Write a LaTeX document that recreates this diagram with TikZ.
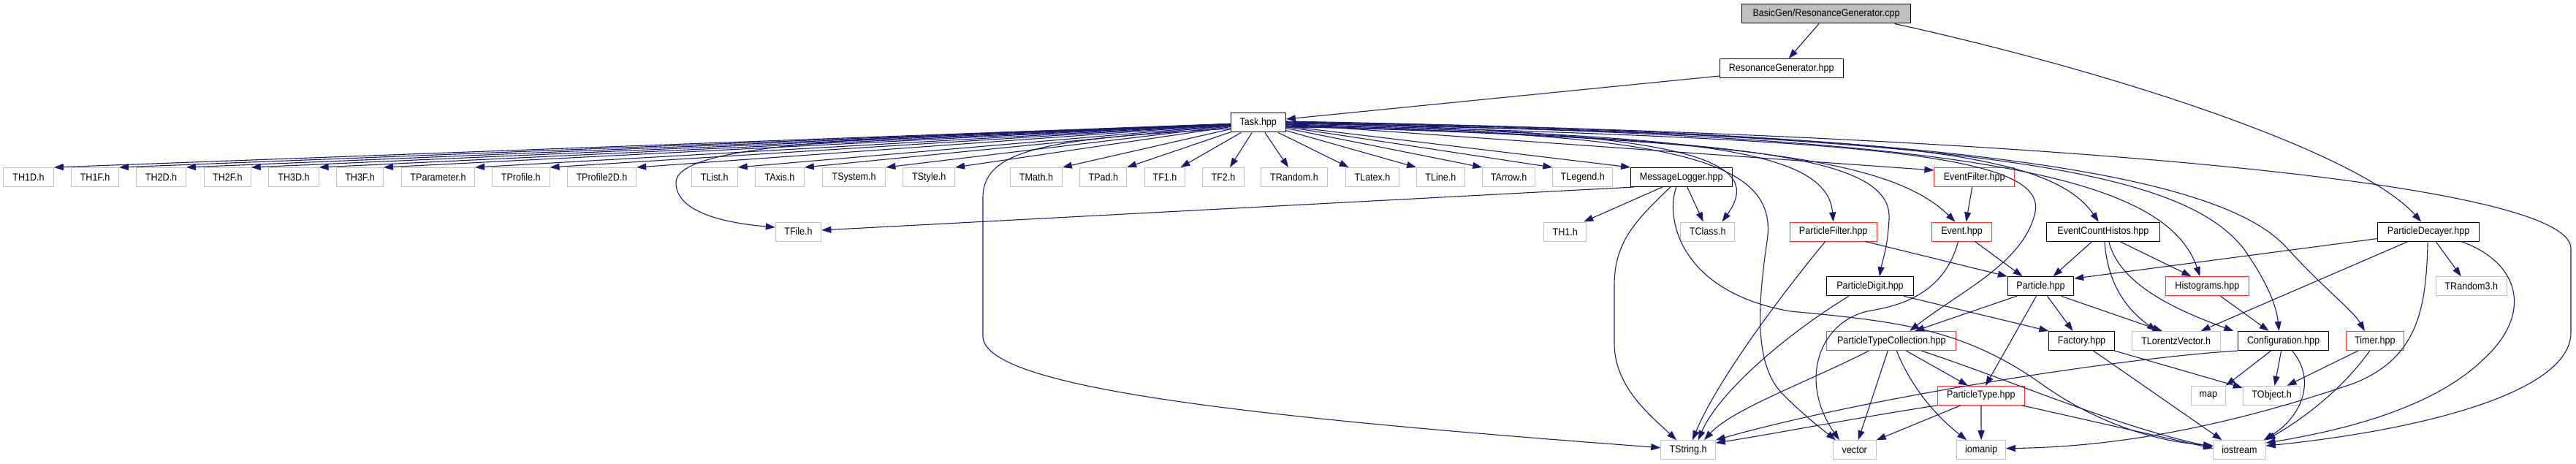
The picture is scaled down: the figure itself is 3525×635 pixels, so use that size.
\documentclass[tikz,border=0pt]{standalone}
\usepackage{fontspec}
\newfontfamily\dfont[FakeStretch=0.9]{Liberation Sans}
\usetikzlibrary{arrows.meta}
\definecolor{mblue}{HTML}{191970}
\definecolor{gborder}{HTML}{BFBFBF}
\definecolor{rborder}{HTML}{FF3333}
\definecolor{rootfill}{HTML}{BFBFBF}
\begin{document}
\begin{tikzpicture}[x=1bp,y=1bp,
  box/.style={draw=black, fill=white, line width=1bp, minimum height=26bp, inner sep=0pt,
    font=\dfont\fontsize{14}{16}\selectfont, text=black},
  ext/.style={box, draw=gborder},
  trunc/.style={box, draw=rborder},
  root/.style={box, fill=rootfill},
  edge/.style={draw=mblue, line width=1.1bp, -{Triangle[length=13bp,width=9bp]}}]
\useasboundingbox (0,0) rectangle (3525,-635);
\fill[white] (0,0) rectangle (3525,-635);

% row 0-2
\node[root, minimum width=231] (cpp) at (2499,-19) {BasicGen/ResonanceGenerator.cpp};
\node[box, minimum width=169.4] (rg) at (2437.7,-93.5) {ResonanceGenerator.hpp};
\node[box, minimum width=75.4] (task) at (1721.8,-168) {Task.hpp};
% row 3
\node[ext, minimum width=69] (th1d) at (39,-242.5) {TH1D.h};
\node[ext, minimum width=65] (th1f) at (130,-242.5) {TH1F.h};
\node[ext, minimum width=68] (th2d) at (220.5,-242.5) {TH2D.h};
\node[ext, minimum width=64] (th2f) at (311.4,-242.5) {TH2F.h};
\node[ext, minimum width=68.5] (th3d) at (402,-242.5) {TH3D.h};
\node[ext, minimum width=64] (th3f) at (492.5,-242.5) {TH3F.h};
\node[ext, minimum width=100.5] (tpar) at (599.5,-242.5) {TParameter.h};
\node[ext, minimum width=79] (tprof) at (712.7,-242.5) {TProfile.h};
\node[ext, minimum width=95] (tprof2) at (823.4,-242.5) {TProfile2D.h};
\node[ext, minimum width=63] (tlist) at (977.8,-242.5) {TList.h};
\node[ext, minimum width=67] (taxis) at (1067,-242.5) {TAxis.h};
\node[ext, minimum width=87] (tsys) at (1168.6,-242.5) {TSystem.h};
\node[ext, minimum width=71] (tstyle) at (1271.2,-242.5) {TStyle.h};
\node[ext, minimum width=71] (tmath) at (1418,-242.5) {TMath.h};
\node[ext, minimum width=64] (tpad) at (1509.8,-242.5) {TPad.h};
\node[ext, minimum width=56] (tf1) at (1594,-242.5) {TF1.h};
\node[ext, minimum width=57] (tf2) at (1674,-242.5) {TF2.h};
\node[ext, minimum width=91] (trand) at (1771,-242.5) {TRandom.h};
\node[ext, minimum width=74] (tlatex) at (1878,-242.5) {TLatex.h};
\node[ext, minimum width=66] (tline) at (1971.4,-242.5) {TLine.h};
\node[ext, minimum width=72] (tarrow) at (2064.6,-242.5) {TArrow.h};
\node[ext, minimum width=82] (tlegend) at (2165.7,-242.5) {TLegend.h};
\node[box, minimum width=139] (ml) at (2300.8,-242.5) {MessageLogger.hpp};
\node[trunc, minimum width=110] (efilter) at (2701.7,-242.5) {EventFilter.hpp};
% row 4
\node[ext, minimum width=62.7] (tfile) at (1092.5,-317) {TFile.h};
\node[ext, minimum width=58] (th1) at (2141.8,-317) {TH1.h};
\node[ext, minimum width=74.6] (tclass) at (2336.7,-317) {TClass.h};
\node[trunc, minimum width=119.4] (pfilter) at (2508.7,-317) {ParticleFilter.hpp};
\node[trunc, minimum width=81.5] (event) at (2684.5,-317) {Event.hpp};
\node[box, minimum width=155] (ech) at (2877.8,-317) {EventCountHistos.hpp};
\node[box, minimum width=139] (pd) at (3323.1,-317) {ParticleDecayer.hpp};
% row 5
\node[box, minimum width=119] (pdigit) at (2559,-391.7) {ParticleDigit.hpp};
\node[box, minimum width=90.7] (particle) at (2792.5,-391.7) {Particle.hpp};
\node[trunc, minimum width=115.2] (hist) at (3020.4,-391.7) {Histograms.hpp};
\node[ext, minimum width=97.2] (trand3) at (3381.8,-391.7) {TRandom3.h};
% row 6
\node[trunc, minimum width=177.6] (ptc) at (2588.3,-466.5) {ParticleTypeCollection.hpp};
\node[box, minimum width=89.6] (factory) at (2848.5,-466.5) {Factory.hpp};
\node[ext, minimum width=121.4] (tlv) at (2977.7,-466.5) {TLorentzVector.h};
\node[box, minimum width=124] (config) at (3124.6,-466.5) {Configuration.hpp};
\node[trunc, minimum width=78.8] (timer) at (3249.8,-466.5) {Timer.hpp};
% row 7
\node[trunc, minimum width=119] (ptype) at (2710.9,-541.3) {ParticleType.hpp};
\node[ext, minimum width=47] (map) at (3021.9,-541.3) {map};
\node[ext, minimum width=78.8] (tobject) at (3108.6,-541.3) {TObject.h};
% row 8
\node[ext, minimum width=74.7] (tstring) at (2310,-615.7) {TString.h};
\node[ext, minimum width=59] (vector) at (2537.8,-615.7) {vector};
\node[ext, minimum width=66.6] (iomanip) at (2711.1,-615.7) {iomanip};
\node[ext, minimum width=71.8] (iostream) at (3064.4,-615.7) {iostream};

% ---- edges ----
\draw[edge] ([xshift=-10]cpp.south) -- ([xshift=10]rg.north);
\draw[edge] ([xshift=94]cpp.south) .. controls (2900,-100) and (3230,-210) .. ([xshift=-10]pd.north);
\draw[edge] ([yshift=3]rg.south west) -- ([yshift=5]task.east);

\foreach \n in {th1d,th1f,th2d,th2f,th3d,th3f,tpar,tprof,tprof2,tlist,taxis,tsys,tstyle,tmath,tpad}
  \draw[edge] (task) -- (\n.north east);
\draw[edge] (task) -- ([xshift=-7]tf1.north east);
\draw[edge] (task) -- ([xshift=9]tf2.north);
\draw[edge] (task) -- ([xshift=-8]trand.north);
\draw[edge] (task) -- ([xshift=5]tlatex.north west);
\foreach \n in {tline,tarrow,tlegend,ml}
  \draw[edge] (task) -- (\n.north west);

\draw[edge] ([yshift=-4]task.west) .. controls (1150,-185) and (925,-200) .. (925,-250)
  .. controls (925,-290) and (990,-305) .. ([yshift=6]tfile.west);
\draw[edge] ([xshift=5]ml.south west) -- ([yshift=2]tfile.east);
\draw[edge] ([yshift=-8]task.west) .. controls (1450,-190) and (1345,-200) .. (1345,-270) -- (1345,-460)
  .. controls (1345,-530) and (1700,-570) .. ([yshift=3]tstring.west);

\draw[edge] ([xshift=-26]ml.south) -- ([xshift=-4]th1.north east);
\draw[edge] ([xshift=8]ml.south) -- ([xshift=-6]tclass.north);
\draw[edge] ([xshift=-15]ml.south) .. controls (2240,-300) and (2209,-330) .. (2209,-390) -- (2209,-470)
  .. controls (2209,-530) and (2260,-570) .. ([xshift=-16]tstring.north);
\draw[edge] ([xshift=-7]ml.south) .. controls (2278,-300) and (2300,-400) .. (2450,-426)
  .. controls (2600,-440) and (2690,-450) .. (2800,-530)
  .. controls (2880,-585) and (2960,-605) .. ([yshift=6]iostream.west);

\draw[edge] (task.east) .. controls (2300,-180) and (2420,-215) .. ([xshift=-18]tclass.north east);
\draw[edge] ([yshift=-3]task.east) .. controls (2300,-185) and (2500,-200) .. (pfilter.north);
\draw[edge] ([yshift=-4]task.east) .. controls (2400,-190) and (2590,-215) .. (2585,-300)
  .. controls (2583,-340) and (2575,-360) .. ([xshift=13]pdigit.north);
\draw[edge] ([yshift=-5]task.east) .. controls (2400,-190) and (2590,-220) .. ([xshift=-9]event.north);
\draw[edge] ([yshift=-2]task.east) -- ([yshift=-4]efilter.north west);
\draw[edge] ([yshift=-2]task.east) .. controls (2550,-190) and (2800,-210) .. (2785,-290)
  .. controls (2770,-360) and (2680,-400) .. ([xshift=25]ptc.north);
\draw[edge] ([yshift=-1]task.east) .. controls (2550,-185) and (2800,-200) .. ([xshift=-6]ech.north);
\draw[edge] (task.east) .. controls (2650,-185) and (2960,-230) .. ([xshift=-10]hist.north);
\draw[edge] ([yshift=1]task.east) .. controls (2750,-185) and (2990,-240) .. (3070,-340)
  .. controls (3105,-390) and (3115,-420) .. ([xshift=-6]config.north);
\draw[edge] ([yshift=1]task.east) .. controls (2750,-180) and (3050,-250) .. (3130,-340)
  .. controls (3180,-395) and (3220,-425) .. ([xshift=-14]timer.north);
\draw[edge] ([yshift=2]task.east) .. controls (2800,-185) and (3518,-250) .. (3518,-340) -- (3518,-455)
  .. controls (3518,-540) and (3300,-590) .. ([yshift=-8]iostream.north east);
\draw[edge] ([yshift=-6]task.east) .. controls (2300,-180) and (2435,-220) .. (2418,-330)
  .. controls (2405,-420) and (2400,-500) .. (2440,-540)
  .. controls (2465,-565) and (2490,-585) .. ([xshift=4]vector.north west);

\draw[edge] ([xshift=-3]efilter.south) -- ([xshift=6]event.north);
\draw[edge] ([xshift=18]event.south) -- ([xshift=-25]particle.north);
\draw[edge] ([xshift=-5]event.south) .. controls (2665,-385) and (2625,-415) .. (2560,-425)
  .. controls (2490,-438) and (2460,-520) .. ([xshift=-21]vector.north);

\draw[edge] ([xshift=44]pfilter.south) -- (particle.north west);
\draw[edge] ([xshift=-11]pfilter.south) .. controls (2440,-400) and (2350,-520) .. ([xshift=6]tstring.north);

\draw[edge] ([xshift=-15]ech.south) -- ([xshift=17]particle.north);
\draw[edge] ([xshift=2]ech.south) .. controls (2885,-400) and (2920,-430) .. ([xshift=-27]tlv.north);
\draw[edge] ([xshift=23]ech.south) -- ([xshift=-22]hist.north);
\draw[edge] ([xshift=8]ech.south) .. controls (2900,-390) and (2980,-425) .. ([xshift=-6]config.north west);

\draw[edge] ([xshift=-33]particle.south) -- ([xshift=32]ptc.north);
\draw[edge] ([xshift=-6]particle.south) -- ([xshift=6]ptype.north);
\draw[edge] ([xshift=9]particle.south) -- ([xshift=-12]factory.north);
\draw[edge] ([xshift=28]particle.south) -- ([xshift=-19]tlv.north);

\draw[edge] ([xshift=46]pdigit.south) -- (factory.north west);
\draw[edge] ([xshift=-29]pdigit.south) .. controls (2440,-460) and (2350,-540) .. ([xshift=14]tstring.north);

\draw[edge] ([xshift=20]ptc.south) -- ([xshift=-18]ptype.north);
\draw[edge] ([xshift=-5]ptc.south) -- ([xshift=5]vector.north);
\draw[edge] ([xshift=7]ptc.south) .. controls (2615,-530) and (2650,-570) .. ([xshift=-20]iomanip.north);
\draw[edge] ([xshift=41]ptc.south) .. controls (2750,-520) and (2900,-585) .. ([yshift=4]iostream.west);
\draw[edge] ([xshift=-31]ptc.south) .. controls (2480,-520) and (2370,-560) .. ([xshift=22]tstring.north);

\draw[edge] ([xshift=-28]ptype.south) -- (vector.north east);
\draw[edge] (ptype) -- (iomanip);
\draw[edge] ([xshift=56]ptype.south) -- ([yshift=2]iostream.west);
\draw[edge] (ptype.south west) .. controls (2550,-570) and (2420,-595) .. ([yshift=-4]tstring.north east);

\draw[edge] ([xshift=45]factory.south) -- ([yshift=-3]tobject.north west);
\draw[edge] ([xshift=16]factory.south) -- ([xshift=-24]iostream.north);

\draw[edge] ([xshift=18]hist.south) -- ([xshift=-20]config.north);

\draw[edge] ([xshift=-17]config.south) -- (map.north east);
\draw[edge] ([xshift=-3]config.south) -- ([xshift=4]tobject.north);
\draw[edge] ([xshift=12]config.south) .. controls (3170,-520) and (3150,-570) .. ([xshift=-3]iostream.north east);
\draw[edge] (config.south west) .. controls (2900,-490) and (2550,-545) .. (tstring.north east);

\draw[edge] ([xshift=-23]timer.south) -- ([xshift=21]tobject.north);
\draw[edge] ([xshift=-7]timer.south) .. controls (3200,-540) and (3140,-580) .. (iostream.north east);

\draw[edge] ([yshift=4]pd.south west) -- ([yshift=-3]particle.north east);
\draw[edge] ([xshift=-28]pd.south) -- ([xshift=34]tlv.north);
\draw[edge] ([xshift=10]pd.south) -- ([xshift=-14]trand3.north);
\draw[edge] ([xshift=-1]pd.south) .. controls (3320,-420) and (3310,-490) .. (3220,-525)
  .. controls (3000,-600) and (2850,-612) .. ([yshift=2]iomanip.east);
\draw[edge] ([xshift=45]pd.south) .. controls (3450,-360) and (3465,-430) .. (3400,-490)
  .. controls (3330,-560) and (3200,-590) .. ([yshift=-4]iostream.north east);
\end{tikzpicture}
\end{document}
